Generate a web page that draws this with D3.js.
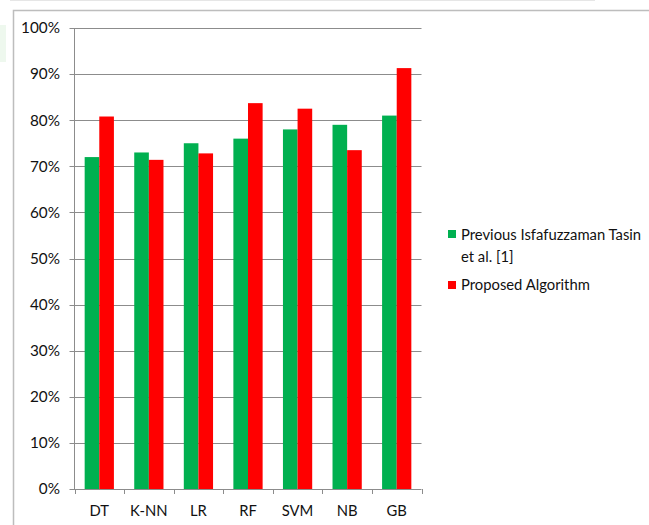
<!DOCTYPE html>
<html><head><meta charset="utf-8">
<script src="https://cdn.jsdelivr.net/npm/d3@7"></script>
<style>body{margin:0;background:#fff;}svg{display:block;font-family:Lato,"Open Sans","Liberation Sans",sans-serif;}</style>
</head><body><svg id="c" width="649" height="525"></svg>
<script>
const categories = ["DT","K-NN","LR","RF","SVM","NB","GB"];
const seriesNames = ["Previous Isfafuzzaman Tasin et al. [1]","Proposed Algorithm"];
const previous = [72, 73, 75, 76, 78, 79, 81];
const proposed = [80.8, 71.4, 72.8, 83.7, 82.5, 73.5, 91.3];
const yTicks = [0,10,20,30,40,50,60,70,80,90,100];
const colors = ["#00B050","#FF0000"];
const fs = 14.8;

const svg = d3.select("#c");
// decorations
svg.append("rect").attr("x",0).attr("y",25).attr("width",6).attr("height",37).attr("fill","#eef8ee");
svg.append("line").attr("x1",10).attr("x2",595).attr("y1",0.5).attr("y2",0.5).attr("stroke","#e6e6e6");
svg.append("path").attr("d","M13.5,525V10.5H649").attr("fill","none").attr("stroke","#bdbdbd").attr("stroke-width",1.5);

const pL=74.5, pR=421.5, pT=28, pB=489;
const x = d3.scaleBand().domain(categories).range([pL,pR]).paddingInner(0.41).paddingOuter(0.205);
const x1 = d3.scaleBand().domain([0,1]).range([0,x.bandwidth()]);
const y = d3.scaleLinear().domain([0,100]).range([pB,pT]);

// gridlines
svg.append("g").selectAll("line").data(yTicks).join("line")
  .attr("x1",pL-5).attr("x2",pR).attr("y1",d=>Math.round(y(d))+0.5).attr("y2",d=>Math.round(y(d))+0.5)
  .attr("stroke","#8c8c8c").attr("stroke-width",1);
svg.append("g").selectAll("text").data(yTicks).join("text")
  .attr("x",60).attr("y",d=>y(d)).attr("dy","0.35em").attr("text-anchor","end")
  .attr("font-size",fs+0.5).attr("fill","#111").text(d=>d+"%");

// bars
const data = categories.map((c,i)=>({c, v:[previous[i],proposed[i]]}));
const g = svg.append("g").selectAll("g").data(data).join("g").attr("transform",d=>`translate(${x(d.c)},0)`);
g.selectAll("rect").data(d=>d.v.map((v,k)=>({v,k}))).join("rect")
  .attr("x",d=>x1(d.k)).attr("width",x1.bandwidth())
  .attr("y",d=>y(d.v)).attr("height",d=>pB-y(d.v))
  .attr("fill",d=>colors[d.k]);

// axes
svg.append("line").attr("x1",pL).attr("x2",pL).attr("y1",pT).attr("y2",pB+1).attr("stroke","#8c8c8c");
const bounds = categories.map(c=>x(c)-x.step()*x.paddingInner()/2).concat([pR]);
svg.append("g").selectAll("line").data(bounds).join("line")
  .attr("x1",d=>Math.round(d)+0.5).attr("x2",d=>Math.round(d)+0.5).attr("y1",pB).attr("y2",pB+5)
  .attr("stroke","#8c8c8c");
svg.append("g").selectAll("text").data(categories).join("text")
  .attr("x",d=>x(d)+x.bandwidth()/2).attr("y",511).attr("dy","0.35em").attr("text-anchor","middle")
  .attr("font-size",fs).attr("fill","#111").text(d=>d);

// legend
const leg = svg.append("g");
leg.append("rect").attr("x",448).attr("y",230).attr("width",8).attr("height",8).attr("fill",colors[0]);
leg.append("text").attr("x",461).attr("y",235).attr("dy","0.35em").attr("font-size",fs).attr("fill","#111").text("Previous Isfafuzzaman Tasin");
leg.append("text").attr("x",461).attr("y",257).attr("dy","0.35em").attr("font-size",fs).attr("fill","#111").text("et al. [1]");
leg.append("rect").attr("x",448).attr("y",281).attr("width",8).attr("height",8).attr("fill",colors[1]);
leg.append("text").attr("x",461).attr("y",285).attr("dy","0.35em").attr("font-size",fs).attr("fill","#111").text(seriesNames[1]);
</script></body></html>
